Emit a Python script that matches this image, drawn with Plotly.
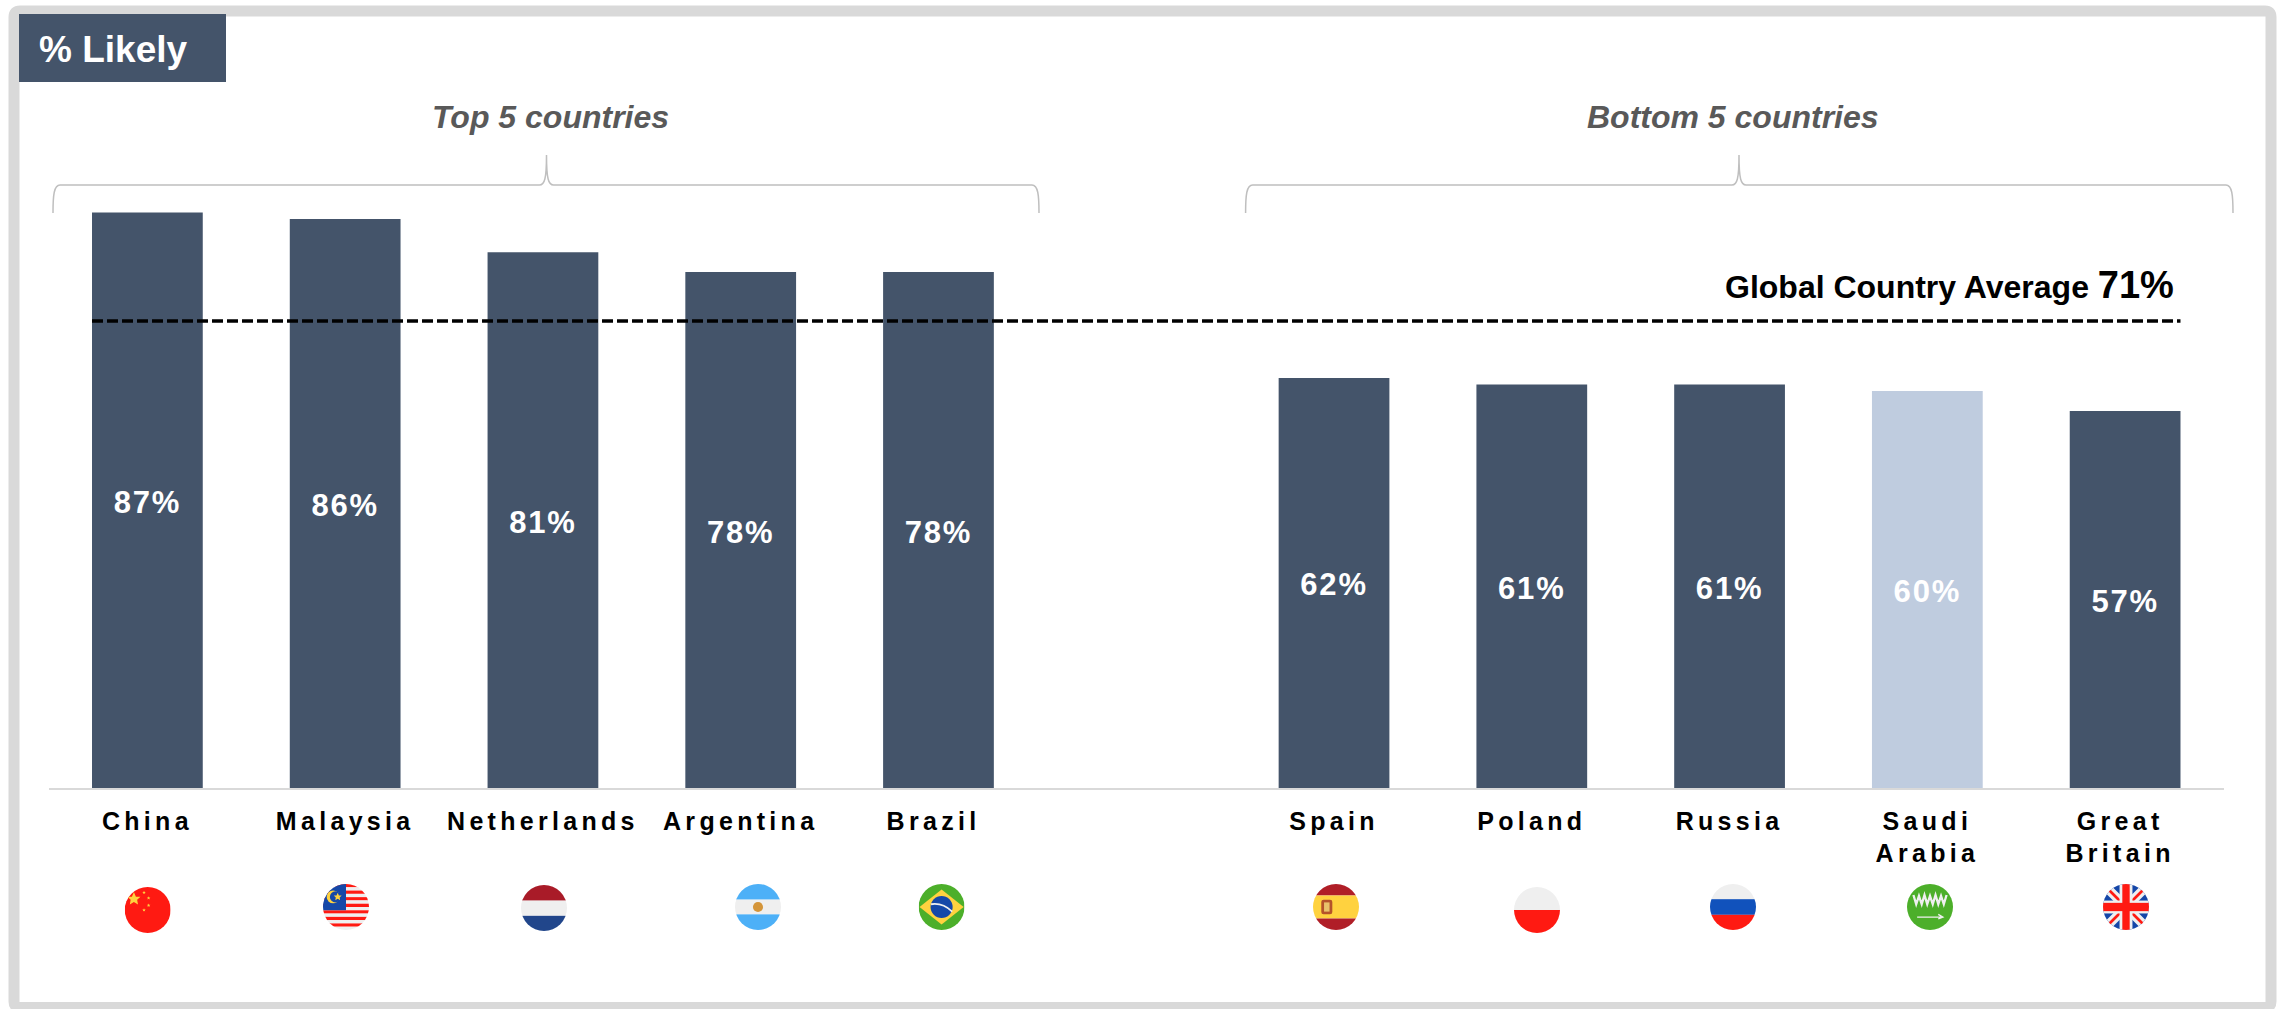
import base64
import plotly.graph_objects as go

# ---------- data ----------
countries = ["China", "Malaysia", "Netherlands", "Argentina", "Brazil",
             "Spain", "Poland", "Russia", "Saudi<br>Arabia", "Great<br>Britain"]
values = [87, 86, 81, 78, 78, 62, 61, 61, 60, 57]
slots = [0, 1, 2, 3, 4, 6, 7, 8, 9, 10]
global_average = 71
global_average_drawn = 70.6
highlight = "Saudi<br>Arabia"

W, H = 2282, 1009
NAVY = "#44546A"
LIGHT = "#BFCCDF"
GREY = "#D9D9D9"
BRACE = "#BFBFBF"
FONT = "Liberation Sans"


def px(x):
    return x / W


def py(y):
    return 1 - y / H


# ---------- flags (small decorative SVG icons) ----------
def svg(body):
    s = ('<svg xmlns="http://www.w3.org/2000/svg" viewBox="0 0 100 100">'
         '<defs><clipPath id="c"><circle cx="50" cy="50" r="50"/></clipPath></defs>'
         '<g clip-path="url(#c)">' + body + '</g></svg>')
    return "data:image/svg+xml;base64," + base64.b64encode(s.encode()).decode()


def bands(*rows):
    out, y = "", 0
    for colour, h in rows:
        out += f'<rect x="0" y="{y}" width="100" height="{h}" fill="{colour}"/>'
        y += h
    return out


RED, WHT, YEL, GRN, BLU = "#FF1A12", "#EFEFEF", "#FFD23F", "#4CAF2A", "#1152BC"
star = lambda x, y, s: (f'<polygon fill="{YEL}" transform="translate({x},{y}) scale({s})" '
                        'points="0,-10 2.9,-3.1 9.5,-3.1 4.7,1.2 5.9,8 0,4.3 -5.9,8 -4.7,1.2 -9.5,-3.1 -2.9,-3.1"/>')
malay = "".join(f'<rect y="{i*100/14:.2f}" width="100" height="{100/14:.2f}" fill="{RED if i % 2 == 0 else WHT}"/>'
                for i in range(14))
malay += ('<rect width="50" height="57" fill="#1548A8"/>'
          f'<circle cx="22" cy="28" r="14" fill="{YEL}"/><circle cx="27" cy="28" r="12" fill="#1548A8"/>'
          + star(32, 28, 0.9))
union = ('<rect width="100" height="100" fill="#1446A8"/>'
         f'<path d="M0 0L100 100M100 0L0 100" stroke="{WHT}" stroke-width="20"/>'
         f'<path d="M0 0L100 100M100 0L0 100" stroke="{RED}" stroke-width="6"/>'
         f'<rect x="36" width="28" height="100" fill="{WHT}"/><rect y="36" width="100" height="28" fill="{WHT}"/>'
         f'<rect x="42" width="16" height="100" fill="{RED}"/><rect y="41" width="100" height="18" fill="{RED}"/>')
flags = {
    "China": bands((RED, 100)) + star(20, 26, 1.5) + star(42, 12, .4) + star(52, 24, .4) + star(52, 40, .4) + star(42, 50, .4),
    "Malaysia": malay,
    "Netherlands": bands(("#A91B28", 34), (WHT, 33), ("#21468B", 33)),
    "Argentina": bands(("#4DB0F7", 34), (WHT, 32), ("#4DB0F7", 34)) + '<circle cx="50" cy="50" r="11" fill="#D4953A"/>',
    "Brazil": bands((GRN, 100)) + f'<polygon points="50,12 98,50 50,88 2,50" fill="{YEL}"/>'
              '<circle cx="50" cy="50" r="24" fill="#1548A8"/>'
              f'<path d="M27 44Q52 40 73 60" stroke="{WHT}" stroke-width="4" fill="none"/>',
    "Spain": bands(("#B01E27", 25), (YEL, 50), ("#B01E27", 25)) +
             '<rect x="18" y="34" width="24" height="32" rx="5" fill="#B5532A"/><rect x="24" y="40" width="12" height="20" fill="#E8C26A"/>',
    "Poland": bands((WHT, 50), (RED, 50)),
    "Russia": bands((WHT, 33), (BLU, 34), (RED, 33)),
    "Saudi<br>Arabia": bands((GRN, 100)) +
             f'<path d="M14 24L20 44L26 26L32 44L38 24L44 44L50 26L56 44L62 24L68 44L74 26L80 44L86 24" stroke="{WHT}" stroke-width="5" fill="none"/>'
             f'<path d="M22 72H76M68 66L78 72L68 76" stroke="{WHT}" stroke-width="3" fill="none"/>',
    "Great<br>Britain": union,
}
flag_x = [147.7, 346, 544, 758, 941.6, 1336, 1537, 1733, 1930, 2126]
flag_y = [910, 907, 908, 907, 907, 907, 910, 907, 907, 907]
FLAG = 46

images = [dict(source=svg(flags[c]), xref="paper", yref="paper", x=px(fx), y=py(fy),
               sizex=FLAG / W, sizey=FLAG / H, xanchor="center", yanchor="middle",
               sizing="stretch", layer="above")
          for c, fx, fy in zip(countries, flag_x, flag_y)]


# ---------- figure ----------
def pt(x, y):
    return f"{px(x):.6f},{py(y):.6f}"


def brace(x0, tip, x1, top=155, mid=185, end=213):
    return (f"M{pt(x0, end)} C{pt(x0, mid + 10)} {pt(x0 + 1, mid)} {pt(x0 + 7, mid)} "
            f"L{pt(tip - 7, mid)} C{pt(tip - 2, mid)} {pt(tip, mid - 6)} {pt(tip, top)} "
            f"C{pt(tip, mid - 6)} {pt(tip + 2, mid)} {pt(tip + 7, mid)} "
            f"L{pt(x1 - 7, mid)} C{pt(x1 - 1, mid)} {pt(x1, mid + 10)} {pt(x1, end)}")


def frame(x0, y0, x1, y1, r=6):
    return (f"M{pt(x0 + r, y0)} L{pt(x1 - r, y0)} Q{pt(x1, y0)} {pt(x1, y0 + r)} "
            f"L{pt(x1, y1 - r)} Q{pt(x1, y1)} {pt(x1 - r, y1)} L{pt(x0 + r, y1)} "
            f"Q{pt(x0, y1)} {pt(x0, y1 - r)} L{pt(x0, y0 + r)} Q{pt(x0, y0)} {pt(x0 + r, y0)} Z")


fig = go.Figure(go.Bar(
    x=slots, y=values, width=0.56,
    marker=dict(color=[LIGHT if c == highlight else NAVY for c in countries], line_width=0),
    text=[f"{v}%" for v in values], textposition="inside", insidetextanchor="middle",
    textangle=0, constraintext="none",
    textfont=dict(family=FONT, size=31, color="white", weight="bold"),
    cliponaxis=False, hoverinfo="skip",
))

shapes = [
    dict(type="path", path=frame(14, 11, 2271, 1007.5), xref="paper", yref="paper",
         line=dict(color=GREY, width=11), fillcolor="rgba(0,0,0,0)", layer="below"),
    dict(type="rect", xref="paper", yref="paper", x0=px(19), x1=px(226), y0=py(14), y1=py(82),
         fillcolor=NAVY, line_width=0),
    dict(type="path", path=brace(53, 546.5, 1039), xref="paper", yref="paper",
         line=dict(color=BRACE, width=1.5)),
    dict(type="path", path=brace(1245.6, 1739, 2233), xref="paper", yref="paper",
         line=dict(color=BRACE, width=1.5)),
    dict(type="line", xref="x", yref="y", x0=slots[0] - 0.28, x1=slots[-1] + 0.28,
         y0=global_average_drawn, y1=global_average_drawn,
         line=dict(color="black", width=3.5, dash="11px,4px"), layer="above"),
]

annotations = [
    dict(text="<b>% Likely</b>", x=px(39), y=py(49.5), xanchor="left", yanchor="middle",
         font=dict(family=FONT, size=37, color="white")),
    dict(text="<b><i>Top 5 countries</i></b>", x=px(550), y=py(116.5), xanchor="center", yanchor="middle",
         font=dict(family=FONT, size=32, color="#595959")),
    dict(text="<b><i>Bottom 5 countries</i></b>", x=px(1733), y=py(116.5), xanchor="center", yanchor="middle",
         font=dict(family=FONT, size=32, color="#595959")),
    dict(text=f'<b>Global Country Average <span style="font-size:38px">{global_average}%</span></b>',
         x=px(2174), y=py(285), xanchor="right", yanchor="middle",
         font=dict(family=FONT, size=32, color="black")),
]
for a in annotations:
    a.update(xref="paper", yref="paper", showarrow=False, borderpad=0, borderwidth=0)

fig.update_layout(
    width=W, height=H, margin=dict(l=0, r=0, t=0, b=0, pad=0),
    paper_bgcolor="white", plot_bgcolor="white", showlegend=False,
    shapes=shapes, annotations=annotations, images=images,
    xaxis=dict(domain=[px(48.5), px(2224)], range=[-0.5, 10.5], tickmode="array",
               tickvals=slots, ticktext=countries, showgrid=False, zeroline=False,
               showline=True, linecolor=GREY, linewidth=2,
               ticks="outside", ticklen=10, tickcolor="rgba(0,0,0,0)",
               tickfont=dict(family=FONT, size=25, color="black", weight="bold"),
               tickangle=0, fixedrange=True),
    yaxis=dict(domain=[py(788), py(212.5 - 6.615 * 3)], range=[0, 90], visible=False, fixedrange=True),
)

post = """
var s=document.createElement('style');
s.textContent='html,body{margin:0;padding:0;overflow:hidden}.xtick text{letter-spacing:4.3px}.bars text{letter-spacing:1.8px}';
document.head.appendChild(s);
document.querySelectorAll('.xtick tspan.line').forEach(function(t){
  if(parseFloat(t.getAttribute('dy'))>0){t.setAttribute('dy','32px');}
});
var nudge={'Brazil':-5,'GreatBritain':-5};
document.querySelectorAll('.xtick text').forEach(function(t){
  var k=t.textContent.replace(/\\s/g,'');
  if(nudge[k]){t.setAttribute('transform',(t.getAttribute('transform')||'')+' translate('+nudge[k]+',0)');}
});
document.querySelectorAll('.bars text').forEach(function(t){
  t.setAttribute('transform',(t.getAttribute('transform')||'')+' translate(0,2)');
});
"""
fig.write_html("out.html", post_script=post, config={"displayModeBar": False})
